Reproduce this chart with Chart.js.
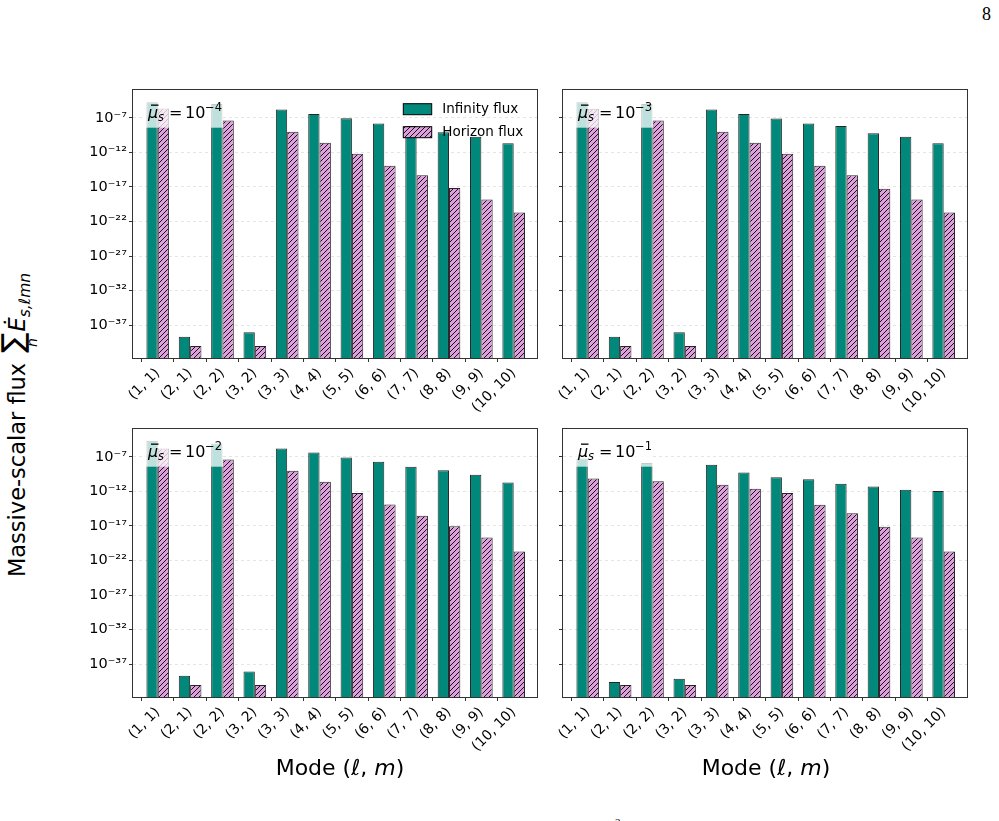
<!DOCTYPE html>
<html>
<head>
<meta charset="utf-8">
<script src="https://cdn.jsdelivr.net/npm/chart.js@4.4.0/dist/chart.umd.min.js"></script>
<style>
html,body{margin:0;padding:0;background:#fff;}
#page{position:relative;width:999px;height:821px;overflow:hidden;background:#fff;font-family:'DejaVu Sans',sans-serif;color:#000;}
canvas{position:absolute;}
.xt{position:absolute;top:755px;font-size:22px;line-height:26px;white-space:nowrap;transform:translateX(-50%);}
#ylab{position:absolute;left:21px;top:425px;transform:translate(-50%,-50%) rotate(-90deg);white-space:nowrap;font-size:22.5px;line-height:44px;}
.sum{display:inline-block;vertical-align:middle;text-align:center;line-height:1;margin:0 1px 0 3px;}
.sum .sg{display:block;font-size:30px;}
.sum .sn{display:block;font-size:14px;font-style:italic;margin-top:-3px;}
.ed{font-style:italic;}
.sb{font-size:15.5px;font-style:italic;vertical-align:-5px;}
#pgnum{position:absolute;left:982px;top:5px;font-family:'Liberation Serif',serif;font-size:18px;line-height:18px;}
#frag{position:absolute;left:615px;top:817px;font-family:'Liberation Serif',serif;font-size:11px;line-height:11px;}
</style>
</head>
<body>
<div id="page">
  <canvas id="c0" width="479" height="349"></canvas>
  <canvas id="c1" width="479" height="349"></canvas>
  <canvas id="c2" width="479" height="349"></canvas>
  <canvas id="c3" width="479" height="349"></canvas>
  <div id="ylab">Massive-scalar flux <span class="sum"><span class="sg">∑</span><span class="sn">n</span></span><span class="ed">Ė</span><span class="sb">s,ℓmn</span></div>
  <div class="xt" style="left:340px">Mode (<i>ℓ</i>, <i>m</i>)</div>
  <div class="xt" style="left:766px">Mode (<i>ℓ</i>, <i>m</i>)</div>
  <div id="pgnum">8</div>
  <div id="frag">2</div>
</div>
<script>
// ---------- data ----------
const modeLabels = ['(1, 1)','(2, 1)','(2, 2)','(3, 2)','(3, 3)','(4, 4)','(5, 5)','(6, 6)','(7, 7)','(8, 8)','(9, 9)','(10, 10)'];
const seriesNames = ['Infinity flux','Horizon flux'];
const muExponents = [-4, -3, -2, -1];
const yTickExponents = [-37, -32, -27, -22, -17, -12, -7];

const infinityMu4 = [1.9e-5, 2.0e-39, 1.05e-5, 9.5e-39, 1.58e-6, 3.72e-7, 8.9e-8, 1.51e-8, 6.9e-9, 8.5e-10, 1.9e-10, 2.2e-11];
const horizonMu4  = [2.24e-6, 9.3e-41, 4.07e-8, 9.3e-41, 9.5e-10, 2.45e-11, 6.3e-13, 1.17e-14, 4.8e-16, 7.1e-18, 1.48e-19, 2.0e-21];

const infinityMu3 = [1.9e-5, 2.0e-39, 1.05e-5, 9.5e-39, 1.58e-6, 3.72e-7, 7.9e-8, 1.51e-8, 6.9e-9, 6.0e-10, 1.82e-10, 2.2e-11];
const horizonMu3  = [2.09e-6, 9.3e-41, 4.07e-8, 9.3e-41, 9.5e-10, 2.45e-11, 6.3e-13, 1.17e-14, 4.8e-16, 5.6e-18, 1.48e-19, 2.0e-21];

const infinityMu2 = [2.24e-5, 2.09e-39, 8.3e-6, 8.7e-39, 1.58e-6, 4.17e-7, 7.9e-8, 1.91e-8, 3.63e-9, 1.2e-9, 2.5e-10, 2.0e-11];
const horizonMu2  = [1.58e-6, 9.3e-41, 4.17e-8, 9.3e-41, 9.5e-10, 2.45e-11, 5.75e-13, 1.32e-14, 3.09e-16, 8.9e-18, 2.09e-19, 2.0e-21];

const infinityMu1 = [5.6e-8, 2.5e-40, 1.35e-8, 7.6e-40, 7.1e-9, 5.5e-10, 1.17e-10, 6.0e-11, 1.29e-11, 5.25e-12, 1.74e-12, 1.12e-12];
const horizonMu1  = [7.4e-11, 9.3e-41, 3.09e-11, 9.3e-41, 9.1e-12, 2.4e-12, 5.75e-13, 1.2e-14, 6.8e-16, 7.9e-18, 2.09e-19, 2.0e-21];

// ---------- styling ----------
const TEAL = '#00897b';
const PLUM = '#dda0dd';
const FONT = "'DejaVu Sans', sans-serif";
const SUP = {'-':'⁻','0':'⁰','1':'¹','2':'²','3':'³','4':'⁴','5':'⁵','6':'⁶','7':'⁷','8':'⁸','9':'⁹'};
function supStr(n){ return String(n).split('').map(c=>SUP[c]).join(''); }

function hatchPattern(ctx){
  const t = 5;
  const c = document.createElement('canvas'); c.width = t; c.height = t;
  const g = c.getContext('2d');
  g.fillStyle = PLUM; g.fillRect(0,0,t,t);
  g.strokeStyle = '#000'; g.lineWidth = 0.9;
  g.beginPath();
  g.moveTo(-1, t+1); g.lineTo(t+1, -1);
  g.moveTo(-1, 1); g.lineTo(1, -1);
  g.moveTo(t-1, t+1); g.lineTo(t+1, t-1);
  g.stroke();
  return ctx.createPattern(c, 'repeat');
}

const decor = {
  id: 'decor',
  afterDatasetsDraw(chart){
    const o = chart.options.plugins.decor;
    const ctx = chart.ctx, a = chart.chartArea;
    ctx.save();
    // annotation box
    ctx.fillStyle = 'rgba(255,255,255,0.75)';
    ctx.fillRect(a.left+12, a.top+9, 78, 29);
    const by = a.top + 28.3;
    ctx.fillStyle = '#000';
    ctx.textAlign = 'left'; ctx.textBaseline = 'alphabetic';
    ctx.font = 'italic 16px ' + FONT;
    ctx.fillText('μ', a.left+15, by);
    ctx.fillRect(a.left+18, by-13.5, 7.5, 1.3);
    ctx.font = 'italic 11.5px ' + FONT;
    ctx.fillText('s', a.left+25, by+3);
    ctx.font = '16px ' + FONT;
    ctx.fillText('=', a.left+36, by);
    ctx.fillText('10', a.left+52, by);
    ctx.font = '11.5px ' + FONT;
    ctx.fillText('−' + Math.abs(o.mu), a.left+72, by-7.5);
    // legend
    if (o.legend){
      const px = a.left+270.3, pw = 28.4;
      ctx.lineWidth = 1; ctx.strokeStyle = '#000';
      ctx.fillStyle = TEAL;
      ctx.fillRect(px, a.top+14, pw, 11);
      ctx.strokeRect(px, a.top+14, pw, 11);
      ctx.fillStyle = o.hatch;
      ctx.fillRect(px, a.top+37, pw, 11);
      ctx.strokeRect(px, a.top+37, pw, 11);
      ctx.fillStyle = '#000';
      ctx.font = '13.5px ' + FONT;
      ctx.textBaseline = 'middle';
      ctx.fillText(seriesNames[0], a.left+309.3, a.top+20);
      ctx.fillText(seriesNames[1], a.left+309.3, a.top+43);
    }
    ctx.restore();
  },
  afterDraw(chart){
    const ctx = chart.ctx, a = chart.chartArea;
    ctx.save();
    ctx.strokeStyle = '#333'; ctx.lineWidth = 1;
    ctx.strokeRect(Math.round(a.left)-0.5, Math.round(a.top)-0.5, Math.round(a.right-a.left)+1, Math.round(a.bottom-a.top)+1);
    ctx.restore();
  }
};

const panels = [
  {id:'c0', left:133, top:89,  inf:infinityMu4, hor:horizonMu4, mu:muExponents[0], showY:true,  legend:true},
  {id:'c1', left:563, top:89,  inf:infinityMu3, hor:horizonMu3, mu:muExponents[1], showY:false, legend:false},
  {id:'c2', left:133, top:428, inf:infinityMu2, hor:horizonMu2, mu:muExponents[2], showY:true,  legend:false},
  {id:'c3', left:563, top:428, inf:infinityMu1, hor:horizonMu1, mu:muExponents[3], showY:false, legend:false}
];

function xTickColor(c){
  return (c.tick && Number.isInteger(c.tick.value) && c.tick.value >= 0 && c.tick.value < modeLabels.length) ? '#333' : 'rgba(0,0,0,0)';
}

panels.forEach(p => {
  const cv = document.getElementById(p.id);
  cv.style.left = (p.left - 60) + 'px';
  cv.style.top = (p.top - 10) + 'px';
  const ctx = cv.getContext('2d');
  const hatch = hatchPattern(ctx);
  new Chart(ctx, {
    type: 'bar',
    data: {
      datasets: [
        {label: seriesNames[0], data: p.inf.map((v,i)=>({x:i, y:v})), backgroundColor: TEAL,
         borderColor: 'rgba(0,0,0,0.85)', borderWidth: 1},
        {label: seriesNames[1], data: p.hor.map((v,i)=>({x:i, y:v})), backgroundColor: hatch,
         borderColor: 'rgba(0,0,0,0.85)', borderWidth: 1}
      ]
    },
    options: {
      responsive: false, animation: false, devicePixelRatio: 1,
      categoryPercentage: 0.7, barPercentage: 1.0,
      layout: {padding: {left:0, right:15, top:10, bottom:0}},
      plugins: {legend:{display:false}, tooltip:{enabled:false}, decor:{mu:p.mu, legend:p.legend, hatch:hatch}},
      scales: {
        x: {
          type: 'linear', min: -0.765, max: 11.72, offset: false,
          afterBuildTicks: s => { s.ticks = modeLabels.map((_,i)=>({value:i})); },
          afterFit: s => { s.height = 70; },
          ticks: {autoSkip:false, minRotation:45, maxRotation:45, padding:3, color:'#000',
                  font:{family:FONT, size:14}, callback: v => modeLabels[v]},
          grid: {drawOnChartArea:false, drawTicks:true, tickLength:4, tickColor:xTickColor, tickWidth:1},
          border: {display:false}
        },
        y: {
          type: 'logarithmic', min: 1.74e-42, max: 1.2e-3,
          afterBuildTicks: s => { s.ticks = yTickExponents.map(e=>({value:Math.pow(10,e)})); },
          afterFit: s => { s.width = 60; },
          ticks: {autoSkip:false, padding:2, color:'#000', font:{family:FONT, size:14.5},
                  callback: v => p.showY ? '10' + supStr(Math.round(Math.log10(v))) : ''},
          grid: {color:'rgba(0,0,0,0.13)', lineWidth:0.8, drawTicks:true, tickLength:4,
                 tickColor:'#333', tickWidth:1, tickBorderDash:[]},
          border: {display:false, dash:[3,3]}
        }
      }
    },
    plugins: [decor]
  });
});
</script>
</body>
</html>
